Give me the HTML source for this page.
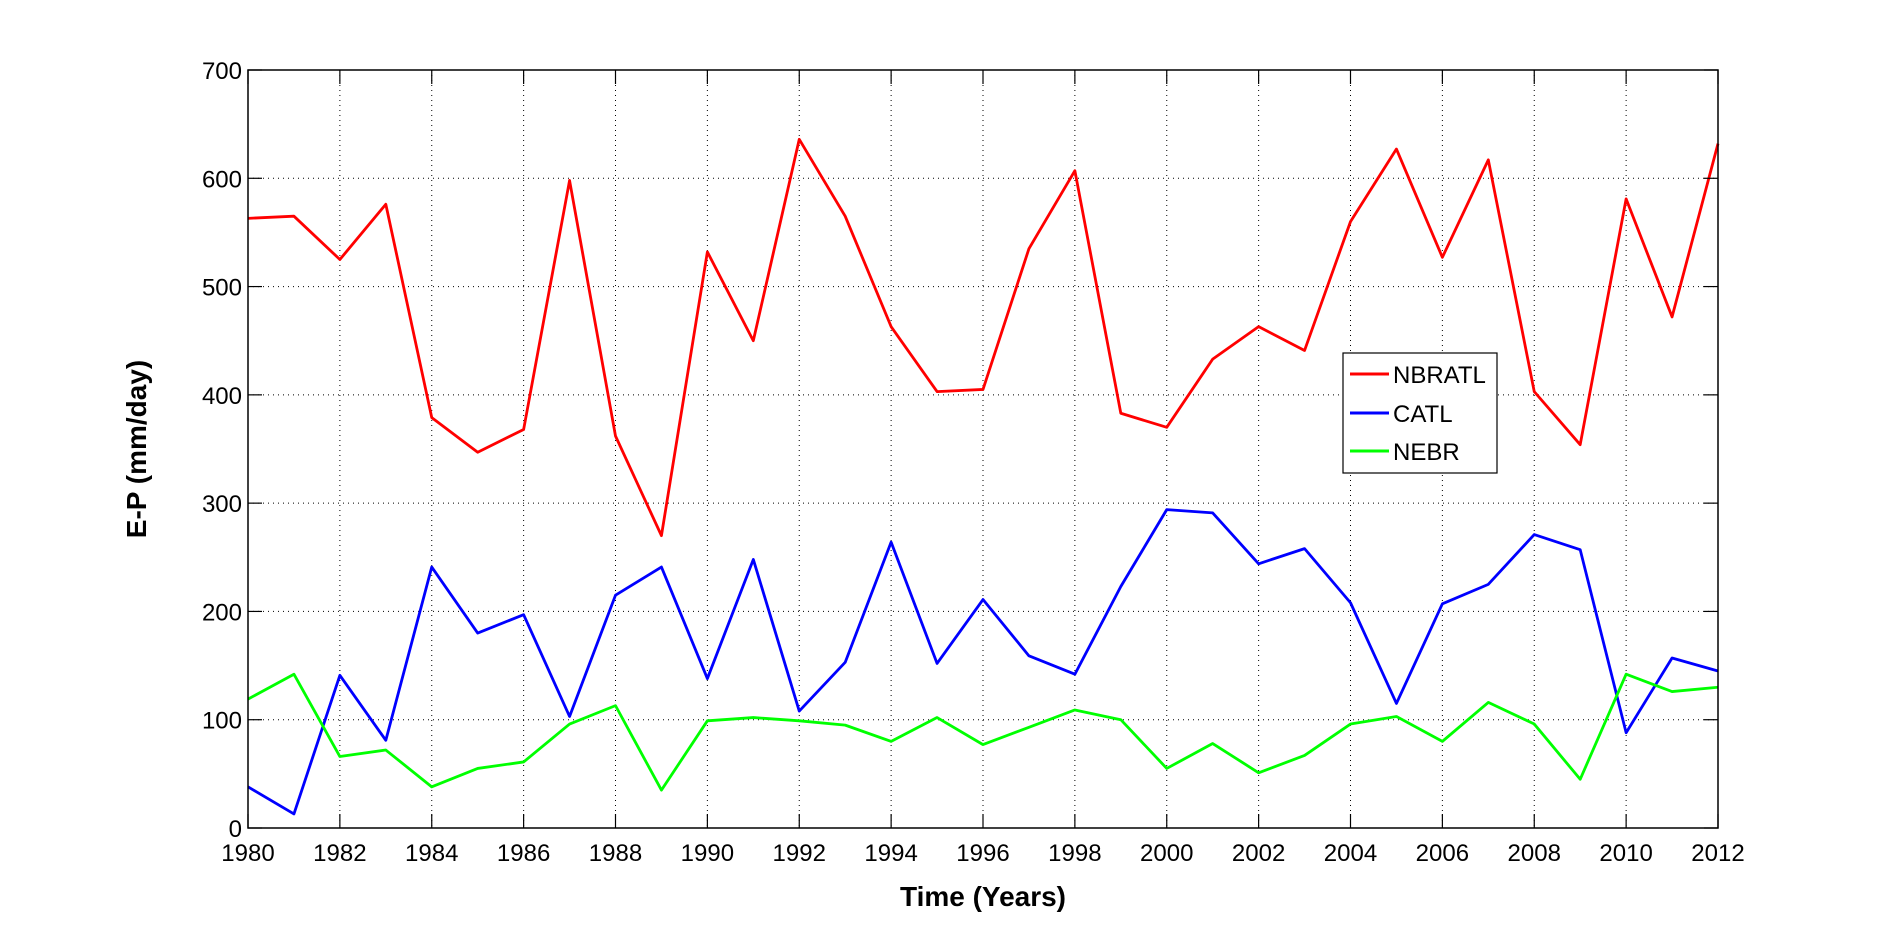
<!DOCTYPE html>
<html><head><meta charset="utf-8"><style>
body{margin:0;background:#fff;}
svg text{font-family:"Liberation Sans",sans-serif;}
</style></head><body>
<svg id="chart" width="1898" height="930" xmlns="http://www.w3.org/2000/svg">
<rect x="0" y="0" width="1898" height="930" fill="#fff"/>
<g id="grid"></g>
<g id="series"></g>
<rect x="248" y="70" width="1470" height="758" fill="none" stroke="#000" stroke-width="1.5"/>
<g id="ticks"></g>
<text x="983" y="906" font-size="28" font-weight="bold" text-anchor="middle">Time (Years)</text>
<text transform="translate(146,449) rotate(-90)" font-size="28" font-weight="bold" text-anchor="middle">E-P (mm/day)</text>
<g>
<rect x="1343" y="353" width="154" height="120" fill="#fff" stroke="#000" stroke-width="1.2"/>
<g><line x1="1350" y1="374" x2="1389" y2="374" stroke="#ff0000" stroke-width="3"/><text x="1393" y="383" font-size="24">NBRATL</text></g>
<g><line x1="1350" y1="413" x2="1389" y2="413" stroke="#0000ff" stroke-width="3"/><text x="1393" y="422" font-size="24">CATL</text></g>
<g><line x1="1350" y1="451" x2="1389" y2="451" stroke="#00ff00" stroke-width="3"/><text x="1393" y="460" font-size="24">NEBR</text></g>
</g>
</svg>
<script>
const years=[];for(let y=1980;y<=2012;y++)years.push(y);
const xTicks=[1980,1982,1984,1986,1988,1990,1992,1994,1996,1998,2000,2002,2004,2006,2008,2010,2012];
const yTicks=[0,100,200,300,400,500,600,700];
const nbratl=[563,565,525,576,379,347,368,598,362,270,532,450,636,565,463,403,405,535,607,383,370,433,463,441,560,627,527,617,403,354,581,472,632];
const catl=[38,13,141,81,241,180,197,103,215,241,138,248,108,153,264,152,211,159,142,223,294,291,244,258,208,115,207,225,271,257,88,157,145];
const nebr=[119,142,66,72,38,55,61,96,113,35,99,102,99,95,80,102,77,93,109,100,55,78,51,67,96,103,80,116,96,45,142,126,130];
const L=248,R=1718,T=70,B=828;
const xs=v=>L+(v-1980)/(2012-1980)*(R-L);
const ys=v=>B-v/700*(B-T);
const NS="http://www.w3.org/2000/svg";
function mk(tag,attrs,parent){const e=document.createElementNS(NS,tag);for(const k in attrs)e.setAttribute(k,attrs[k]);parent.appendChild(e);return e;}
const grid=document.getElementById('grid'),ticks=document.getElementById('ticks'),series=document.getElementById('series');
xTicks.forEach(t=>{
 const x=xs(t);
 const g=mk('line',{x1:x,y1:T,x2:x,y2:B,stroke:'#000','stroke-width':1,'stroke-dasharray':'1,4'},grid);
 
 
 mk('line',{x1:x,y1:B,x2:x,y2:B-14,stroke:'#000','stroke-width':1.2},ticks);
 mk('line',{x1:x,y1:T,x2:x,y2:T+14,stroke:'#000','stroke-width':1.2},ticks);
 const tx=mk('text',{x:x,y:B+33,'font-size':24,'text-anchor':'middle'},ticks);
 tx.textContent=t;
 
 
});
yTicks.forEach(t=>{
 const y=ys(t);
 const g=mk('line',{x1:L,y1:y,x2:R,y2:y,stroke:'#000','stroke-width':1,'stroke-dasharray':'1,4'},grid);
 
 
 mk('line',{x1:L,y1:y,x2:L+14,y2:y,stroke:'#000','stroke-width':1.2},ticks);
 mk('line',{x1:R,y1:y,x2:R-14,y2:y,stroke:'#000','stroke-width':1.2},ticks);
 const tx=mk('text',{x:L-6,y:y+9,'font-size':24,'text-anchor':'end'},ticks);
 tx.textContent=t;
 
 
});
[[nbratl,'#ff0000','nbratl-line'],[catl,'#0000ff','catl-line'],[nebr,'#00ff00','nebr-line']].forEach(([d,c,n])=>{
 const p=mk('polyline',{points:d.map((v,i)=>xs(years[i])+','+ys(v)).join(' '),fill:'none',stroke:c,'stroke-width':2.8,'stroke-linejoin':'round'},series);
 
 
});
</script>
</body></html>
